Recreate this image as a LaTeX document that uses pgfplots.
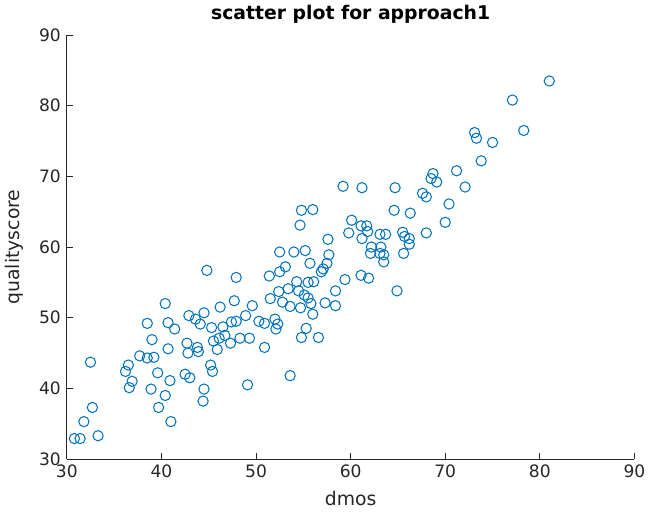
\documentclass[border=0pt]{standalone}
\usepackage{pgfplots}
\pgfplotsset{compat=1.18}
\usepackage{fontspec}
\setmainfont{DejaVu Sans}
\definecolor{mblue}{RGB}{0,114,189}
\definecolor{axgray}{RGB}{38,38,38}
\begin{document}
\begin{tikzpicture}
\begin{axis}[
  width=332pt, height=248pt, scale only axis,
  xmin=30, xmax=90, ymin=30, ymax=90,
  xtick={30,40,...,90}, ytick={30,40,...,90},
  axis x line*=bottom, axis y line*=left,
  axis line style={-, axgray, line width=0.5pt},
  tick align=inside, major tick length=3.5pt,
  tick style={axgray, line width=0.5pt},
  tick label style={font=\fontsize{10}{11}\selectfont, text=axgray},
  /pgf/number format/assume math mode=true,
  xlabel={dmos}, ylabel={qualityscore},
  xlabel style={yshift=-1pt},
  ylabel style={yshift=2pt},
  label style={font=\fontsize{11}{13}\selectfont, text=axgray},
  title={scatter plot for approach1},
  title style={font=\bfseries\fontsize{11}{13}\selectfont, yshift=-3pt},
]
\addplot[only marks, mark=o, mark size=3pt, draw=mblue, mark options={line width=0.6pt}] table {
x y
30.8 32.9
31.4 32.9
33.3 33.3
31.8 35.3
32.7 37.3
32.5 43.7
36.5 43.3
36.2 42.4
36.9 41.0
36.6 40.1
37.7 44.6
38.5 44.3
39.2 44.4
38.5 49.2
39.0 46.9
39.6 42.2
38.9 39.9
39.7 37.3
40.4 39.0
41.0 35.3
40.9 41.1
40.7 45.6
40.4 52.0
40.7 49.3
41.4 48.4
42.5 42.0
43.0 41.5
42.9 50.3
42.7 46.4
42.8 45.0
54.65 63.1
52.5 59.3
54.0 59.3
55.2 59.5
55.7 57.7
44.8 56.7
47.9 55.7
51.4 55.9
52.5 56.5
53.1 57.2
54.3 55.1
55.5 55.0
56.1 55.1
51.5 52.7
52.4 53.7
53.4 54.1
54.5 53.8
55.1 53.2
55.5 52.8
55.8 52.0
52.8 52.2
53.6 51.6
54.7 51.4
56.0 50.5
44.5 50.7
46.2 51.5
47.7 52.4
49.6 51.7
43.6 49.8
44.1 49.1
45.3 48.6
46.5 48.7
47.4 49.4
47.9 49.5
48.9 50.3
50.3 49.5
50.9 49.2
52.0 49.8
52.3 49.1
52.1 48.4
43.8 45.8
43.9 45.2
45.5 46.7
46.1 47.1
46.7 47.5
45.9 45.5
47.3 46.4
48.3 47.1
49.3 47.1
50.9 45.8
55.3 48.5
54.8 47.2
56.6 47.2
45.2 43.3
45.4 42.4
53.6 41.8
49.1 40.5
44.5 39.9
44.4 38.2
59.2 68.6
61.2 68.4
64.7 68.4
68.7 70.4
68.5 69.7
69.1 69.2
67.6 67.6
68.0 67.1
64.6 65.2
66.3 64.8
60.1 63.8
59.8 62.0
61.1 63.0
61.7 63.0
61.8 62.2
61.2 61.2
63.1 61.8
63.7 61.8
65.5 62.1
65.7 61.5
66.2 61.2
66.2 60.4
65.6 59.1
68.0 62.0
62.2 60.0
62.1 59.1
63.2 60.0
63.1 59.1
63.5 58.9
63.5 57.9
57.6 61.1
57.7 58.9
57.5 57.7
57.1 56.9
56.9 56.5
59.4 55.4
58.4 53.8
57.3 52.1
58.4 51.7
61.1 56.0
61.9 55.6
64.9 53.8
81.0 83.5
77.1 80.8
78.3 76.5
73.1 76.2
73.3 75.4
75.0 74.8
73.8 72.2
71.2 70.8
72.1 68.5
70.4 66.1
70.0 63.5
54.8 65.2
56.0 65.3
};
\end{axis}
\end{tikzpicture}
\end{document}
